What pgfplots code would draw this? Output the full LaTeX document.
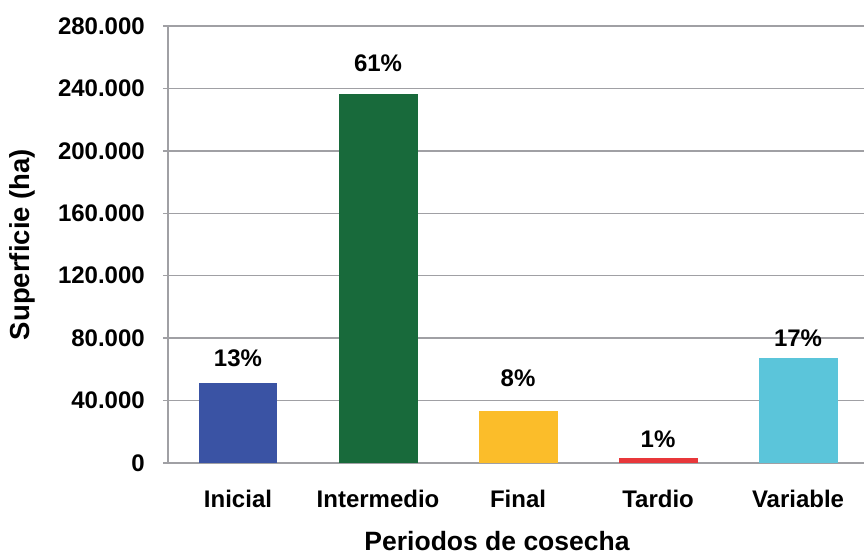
\documentclass[border=0pt]{standalone}
\usepackage{fontspec}
\setmainfont{Liberation Sans}
\usepackage{pgfplots}
\pgfplotsset{compat=1.18}
\definecolor{cIni}{HTML}{3A53A4}
\definecolor{cInt}{HTML}{186A3B}
\definecolor{cFin}{HTML}{FBBD2A}
\definecolor{cTar}{HTML}{E8373A}
\definecolor{cVar}{HTML}{5BC5DA}
\definecolor{gridc}{HTML}{A0A0A4}
\newcommand\lbl{\fontsize{24}{28}\selectfont\bfseries}
\newcommand\ttl{\fontsize{26.5}{30}\selectfont\bfseries}
\newcommand\ttly{\fontsize{27.5}{30}\selectfont\bfseries}
\begin{document}
\begin{tikzpicture}
\begin{axis}[
  scale only axis,
  width=696pt, height=437pt,
  xmin=-0.5, xmax=4.471,
  ymin=0, ymax=280000,
  ytick={0,40000,...,280000},
  xtick={0,1,2,3,4},
  xticklabels={Inicial,Intermedio,Final,Tardio,Variable},
  extra x ticks={-0.5,0.5,1.5,2.5,3.5},
  extra x tick labels={},
  extra x tick style={major tick length=7pt, tick style={draw=gridc, line width=1.3pt}, grid=none},
  x tick style={draw=none},
  y tick style={draw=gridc, line width=1.3pt},
  tick align=outside,
  major tick length=5pt,
  axis x line*=bottom,
  axis y line*=left,
  axis line style={draw=gridc, line width=1.3pt},
  ymajorgrids,
  grid style={draw=gridc, line width=1.3pt},
  scaled y ticks=false,
  /pgf/number format/.cd, 1000 sep={.}, fixed, assume math mode=true,
  /pgfplots/.cd,
  tick label style={font=\lbl},
  y tick label style={inner sep=0pt, xshift=-18pt},
  x tick label style={inner sep=0pt, yshift=-22pt},
  xlabel={Periodos de cosecha},
  ylabel={Superficie (ha)},
  xlabel style={font=\ttl, at={(axis cs:1.85,0)}, anchor=base, inner sep=0pt, yshift=-87pt},
  ylabel style={font=\ttly, at={(axis description cs:0,0.5)}, anchor=center, inner sep=0pt, yshift=145.5pt},
  ybar, bar width=0.564, bar shift=0pt,
  nodes near coords,
  point meta=explicit symbolic,
  every node near coord/.append style={font=\lbl, anchor=south, inner sep=0pt, text=black},
  clip=false,
]
\addplot[fill=cIni, draw=none, every node near coord/.append style={yshift=16pt}] coordinates {(0,51000) [13\%]};
\addplot[fill=cInt, draw=none, every node near coord/.append style={yshift=22pt}] coordinates {(1,236500) [61\%]};
\addplot[fill=cFin, draw=none, every node near coord/.append style={yshift=24pt}] coordinates {(2,33300) [8\%]};
\addplot[fill=cTar, draw=none, every node near coord/.append style={yshift=10pt}] coordinates {(3,3000) [1\%]};
\addplot[fill=cVar, draw=none, every node near coord/.append style={yshift=11pt}] coordinates {(4,67300) [17\%]};
\end{axis}
\pgfresetboundingbox
\path (-168pt,-91pt) rectangle (696pt,463pt);
\end{tikzpicture}
\end{document}
